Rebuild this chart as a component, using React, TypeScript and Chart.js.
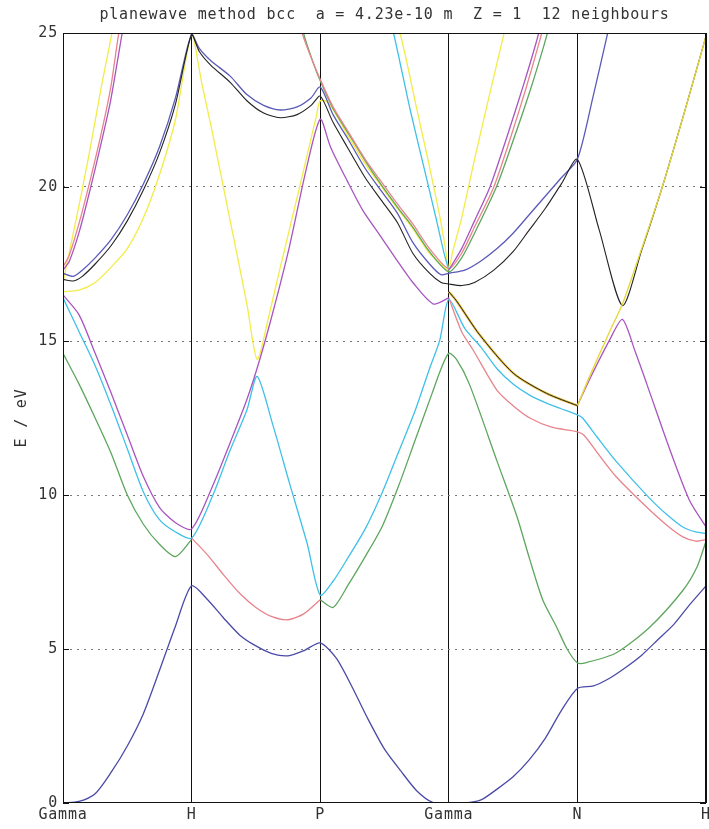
import { useEffect, useRef } from "react";
import { Chart, registerables } from "chart.js";

Chart.register(...registerables);

// ---------- texts / ticks ----------
const titleText = "planewave method bcc  a = 4.23e-10 m  Z = 1  12 neighbours";
const yAxisLabel = "E / eV";
const kPointLabels = ["Gamma", "H", "P", "Gamma", "N", "H"];
const kPointPositions = [0, 1, 2, 3, 4, 5];
const energyTicks = [0, 5, 10, 15, 20, 25];

type P = [number, number];

// ---------- bands (x = path position, y = energy in eV) ----------
const navyLow: P[] = [[0,0],[0.125,0.05],[0.25,0.3],[0.375,1.0],[0.5,1.85],[0.625,2.9],[0.75,4.3],[0.875,5.75],[1,7.05],[1.125,6.6],[1.25,6.0],[1.375,5.45],[1.5,5.1],[1.625,4.85],[1.75,4.78],[1.875,4.95],[2,5.2],[2.125,4.7],[2.25,3.75],[2.375,2.7],[2.5,1.75],[2.625,1.05],[2.75,0.4],[2.875,0.02],[3,0],[3.125,0],[3.25,0.1],[3.375,0.45],[3.5,0.85],[3.625,1.4],[3.75,2.1],[3.875,3.0],[4,3.72],[4.125,3.8],[4.25,4.05],[4.375,4.4],[4.5,4.8],[4.625,5.3],[4.75,5.8],[4.875,6.45],[5,7.05]];
const pinkLow: P[] = [[1,8.6],[1.125,8.05],[1.25,7.4],[1.375,6.8],[1.5,6.35],[1.625,6.05],[1.75,5.95],[1.875,6.15],[2,6.6]];
const greenLow: P[] = [[0,14.6],[0.125,13.6],[0.25,12.5],[0.375,11.35],[0.5,10.0],[0.625,9.05],[0.75,8.4],[0.875,8.0],[1,8.55]];
const greenMid: P[] = [[2,6.6],[2.1,6.35],[2.22,7.1],[2.35,8.0],[2.48,8.96],[2.61,10.3],[2.74,11.8],[2.87,13.3],[2.94,14.1],[3,14.6],[3.06,14.4],[3.16,13.6],[3.375,11.1],[3.53,9.3],[3.63,7.9],[3.73,6.6],[3.84,5.7],[3.92,5.0],[4,4.55],[4.07,4.56],[4.3,4.87],[4.56,5.7],[4.82,6.9],[4.93,7.66],[5,8.5]];
const cyanLow: P[] = [[0,16.4],[0.125,15.3],[0.25,14.2],[0.375,12.9],[0.5,11.5],[0.625,10.1],[0.75,9.2],[0.875,8.8],[1,8.6],[1.16,9.94],[1.3,11.46],[1.43,12.76],[1.51,13.85],[1.63,12.3],[1.76,10.4],[1.9,8.4],[2,6.75],[2.1,7.2],[2.22,7.99],[2.35,8.9],[2.48,10.06],[2.6,11.3],[2.74,12.76],[2.85,14.1],[2.93,15.03],[3,16.35],[3.125,15.4],[3.25,14.8],[3.375,14.1],[3.5,13.6],[3.625,13.25],[3.75,13.0],[3.875,12.8],[4,12.6],[4.04,12.5],[4.15,11.9],[4.3,11.1],[4.56,9.9],[4.7,9.35],[4.82,8.96],[4.92,8.8],[5,8.75]];
const magentaLow: P[] = [[0,16.5],[0.125,15.85],[0.25,14.6],[0.375,13.3],[0.5,11.95],[0.625,10.6],[0.75,9.6],[0.875,9.1],[1,8.9],[1.16,10.26],[1.3,11.7],[1.43,13.1],[1.53,14.4],[1.63,15.9],[1.76,18.05],[1.89,20.55],[2,22.2],[2.08,21.3],[2.21,20.2],[2.33,19.25],[2.47,18.4],[2.6,17.6],[2.72,16.9],[2.88,16.2],[3,16.4]];
const magentaNH: P[] = [[4,12.9],[4.1,13.8],[4.25,15.03],[4.35,15.7],[4.45,14.65],[4.54,13.6],[4.72,11.46],[4.87,9.84],[5,8.96]];
const pinkGNH: P[] = [[3,16.4],[3.1,15.3],[3.19,14.7],[3.375,13.4],[3.5,12.9],[3.63,12.5],[3.8,12.2],[4,12.05],[4.05,11.95],[4.15,11.4],[4.3,10.6],[4.54,9.6],[4.7,9.0],[4.82,8.64],[4.92,8.5],[5,8.55]];
const topGN: P[] = [[3,16.6],[3.06,16.3],[3.24,15.2],[3.5,13.96],[3.76,13.3],[4,12.9]];
const yellowNH: P[] = [[4,12.9],[4.1,13.9],[4.25,15.3],[4.35,16.2],[4.5,18.0],[4.66,20.0],[4.83,22.4],[5,24.9]];
const yellowGHP: P[] = [[0,16.6],[0.125,16.65],[0.25,16.9],[0.375,17.4],[0.5,18.0],[0.625,19.0],[0.75,20.4],[0.875,22.2],[1,24.95],[1.08,23.35],[1.16,21.8],[1.3,18.9],[1.43,16.2],[1.51,14.4],[1.6,15.8],[1.69,17.4],[1.84,20.0],[1.97,22.3],[2,22.8],[2.06,22.75],[2.13,22.3],[2.21,21.7],[2.35,20.75],[2.47,20.05],[2.6,19.3],[2.72,18.65],[2.85,17.85],[3,17.25]];
const yellowSteepGH: P[] = [[0,16.9],[0.1,18.9],[0.2,21.0],[0.3,23.3],[0.39,25.2],[0.44,26.4]];
const yellowSteepPGN: P[] = [[2.5,26.3],[2.62,25],[2.75,22.55],[2.85,20.65],[2.93,19.05],[2.97,18.1],[3,17.35],[3.03,17.9],[3.1,19.0],[3.2,20.9],[3.3,22.7],[3.43,25],[3.5,26.3]];
const cyanSteepPG: P[] = [[2.48,26.4],[2.57,25],[2.7,22.5],[2.8,20.75],[2.9,19.0],[2.96,17.9],[3,17.3]];
const pinkSteepGH: P[] = [[0,17.4],[0.05,17.8],[0.13,18.9],[0.21,20.2],[0.29,21.6],[0.37,23.2],[0.43,24.9],[0.5,26.6]];
const magentaSteepGH: P[] = [[0,17.3],[0.05,17.6],[0.13,18.6],[0.21,19.9],[0.29,21.3],[0.37,22.8],[0.44,24.5],[0.5,26.0]];
const pinkUpper: P[] = [[1.8,26.3],[1.86,25],[1.93,24.2],[2,23.5],[2.1,22.6],[2.21,21.85],[2.35,20.9],[2.47,20.2],[2.6,19.45],[2.72,18.8],[2.85,18.0],[3,17.35],[3.1,17.85],[3.2,18.7],[3.35,20.0],[3.48,21.6],[3.6,23.2],[3.71,24.8],[3.76,25.6]];
const greenUpper: P[] = [[1.81,26.3],[1.87,25],[1.94,24.1],[2,23.45],[2.1,22.55],[2.21,21.8],[2.35,20.85],[2.47,20.1],[2.6,19.35],[2.72,18.7],[2.85,17.9],[3,17.25],[3.1,17.7],[3.2,18.5],[3.37,20.0],[3.5,21.5],[3.63,23.1],[3.74,24.6],[3.8,25.5]];
const magentaSteepGN: P[] = [[3,17.3],[3.1,18.0],[3.2,18.9],[3.32,20.0],[3.45,21.6],[3.58,23.3],[3.68,24.7],[3.73,25.5]];
const blueUpper: P[] = [[0,17.2],[0.08,17.1],[0.15,17.3],[0.25,17.7],[0.375,18.3],[0.5,19.1],[0.625,20.1],[0.75,21.3],[0.875,22.9],[1,24.97],[1.06,24.5],[1.15,24.1],[1.3,23.6],[1.43,23.0],[1.56,22.65],[1.69,22.5],[1.82,22.6],[1.93,22.9],[2,23.25],[2.1,22.35],[2.21,21.6],[2.35,20.6],[2.47,19.9],[2.6,19.15],[2.72,18.2],[2.85,17.5],[2.94,17.15],[3,17.2],[3.125,17.3],[3.25,17.6],[3.375,18.0],[3.5,18.5],[3.625,19.1],[3.75,19.7],[3.875,20.3],[4,20.9],[4.12,22.9],[4.23,24.9],[4.3,26.2]];
const blackUpper: P[] = [[0,17.0],[0.08,16.95],[0.15,17.1],[0.25,17.5],[0.375,18.1],[0.5,18.9],[0.625,19.9],[0.75,21.1],[0.875,22.7],[1,24.95],[1.06,24.4],[1.15,23.95],[1.3,23.4],[1.43,22.8],[1.56,22.4],[1.69,22.25],[1.82,22.35],[1.93,22.65],[2,22.95],[2.1,22.1],[2.21,21.3],[2.35,20.3],[2.47,19.6],[2.6,18.85],[2.72,17.85],[2.85,17.2],[2.94,16.9],[3,16.85],[3.1,16.8],[3.2,16.9],[3.35,17.3],[3.5,17.9],[3.625,18.6],[3.75,19.3],[3.875,20.1],[4,20.9],[4.17,18.6],[4.35,16.15],[4.5,17.95],[4.66,20.0],[4.83,22.4],[5,24.9]];

// ---------- styles ----------
const NAVY = "#4a4aa8";
const PINK = "#e8848c";
const GREEN = "#5ea65e";
const CYAN = "#3fc0e8";
const MAGENTA = "#a855c0";
const YELLOW = "#f2ec48";
const BLUE = "#5a5ab8";
const BLACK = "#222222";
const FONT = '"DejaVu Sans Mono", monospace';
const TEXT = "#333333";

const series: { d: P[]; c: string; w?: number }[] = [
  { d: yellowSteepGH, c: YELLOW },
  { d: yellowGHP, c: YELLOW },
  { d: yellowSteepPGN, c: YELLOW },
  { d: topGN, c: "#e8c040", w: 2.4 },
  { d: cyanSteepPG, c: CYAN },
  { d: greenLow, c: GREEN },
  { d: greenMid, c: GREEN },
  { d: greenUpper, c: GREEN },
  { d: cyanLow, c: CYAN },
  { d: pinkLow, c: PINK },
  { d: pinkGNH, c: PINK },
  { d: pinkSteepGH, c: PINK },
  { d: pinkUpper, c: PINK },
  { d: magentaLow, c: MAGENTA },
  { d: magentaNH, c: MAGENTA },
  { d: magentaSteepGH, c: MAGENTA },
  { d: magentaSteepGN, c: MAGENTA },
  { d: blueUpper, c: BLUE },
  { d: blackUpper, c: BLACK, w: 1.1 },
  { d: yellowNH, c: "#e6d840", w: 1.4 },
  { d: topGN, c: BLACK, w: 1 },
  { d: navyLow, c: NAVY },
];

const overlay = {
  id: "overlay",
  beforeDraw(chart: any) {
    const ctx = chart.ctx as any;
    ctx.letterSpacing = "0.8px";
  },
  afterDatasetsDraw(chart: any) {
    const { ctx, chartArea: a, scales } = chart;
    ctx.save();
    ctx.strokeStyle = "#111";
    ctx.lineWidth = 1;
    ctx.setLineDash([]);
    ctx.strokeRect(a.left + 0.5, a.top + 0.5, a.right - a.left - 1, a.bottom - a.top - 1);
    ctx.beginPath();
    for (const v of energyTicks) {
      const y = Math.round(scales.y.getPixelForValue(v)) + 0.5;
      ctx.moveTo(a.left, y);
      ctx.lineTo(a.left + 6, y);
      ctx.moveTo(a.right - 6, y);
      ctx.lineTo(a.right, y);
    }
    ctx.stroke();
    ctx.restore();
  },
  afterDraw(chart: any) {
    const { ctx, chartArea: a } = chart;
    ctx.save();
    (ctx as any).letterSpacing = "0.8px";
    ctx.fillStyle = TEXT;
    ctx.font = `15px ${FONT}`;
    ctx.textAlign = "center";
    ctx.textBaseline = "middle";
    ctx.fillText(titleText, (a.left + a.right) / 2, 15);
    ctx.translate(22, (a.top + a.bottom) / 2);
    ctx.rotate(-Math.PI / 2);
    ctx.fillText(yAxisLabel, 0, 0);
    ctx.restore();
  },
};

export default function App() {
  const ref = useRef<HTMLCanvasElement>(null);
  useEffect(() => {
    document.body.style.margin = "0";
    const n = series.length;
    const chart = new Chart(ref.current as HTMLCanvasElement, {
      type: "line",
      data: {
        datasets: series.map((s, i) => ({
          data: s.d.map(([x, y]) => ({ x, y })),
          borderColor: s.c,
          backgroundColor: s.c,
          borderWidth: s.w ?? 1.3,
          pointRadius: 0,
          tension: 0.25,
          fill: false,
          order: n - i,
        })),
      },
      options: {
        animation: false,
        responsive: false,
        devicePixelRatio: 1,
        layout: { padding: { top: 33, right: 3, left: 0, bottom: 0 } },
        plugins: { legend: { display: false }, tooltip: { enabled: false }, title: { display: false } },
        scales: {
          x: {
            type: "linear",
            min: 0,
            max: 5,
            afterBuildTicks: (s: any) => {
              s.ticks = kPointPositions.map((v) => ({ value: v }));
            },
            afterFit: (s: any) => {
              s.height = 26;
              s.paddingLeft = 0;
              s.paddingRight = 0;
            },
            ticks: {
              autoSkip: false,
              maxRotation: 0,
              minRotation: 0,
              padding: 3,
              color: TEXT,
              font: { family: FONT, size: 15 },
              callback: (v: any) => {
                const i = kPointPositions.indexOf(Number(v));
                return i >= 0 ? kPointLabels[i] : "";
              },
            },
            grid: { color: "#111", lineWidth: 1, drawTicks: false },
            border: { display: false },
          },
          y: {
            type: "linear",
            min: 0,
            max: 25,
            afterBuildTicks: (s: any) => {
              s.ticks = energyTicks.map((v) => ({ value: v }));
            },
            afterFit: (s: any) => {
              s.width = 63;
              s.paddingTop = 0;
              s.paddingBottom = 0;
            },
            ticks: {
              padding: 5,
              color: TEXT,
              font: { family: FONT, size: 15 },
              callback: (v: any) => String(v),
            },
            grid: {
              color: (c: any) => (c.tick && (c.tick.value === 0 || c.tick.value === 25) ? "rgba(0,0,0,0)" : "#7a7a7a"),
              lineWidth: 1,
              drawTicks: false,
            },
            border: { display: false, dash: [2, 5] },
          },
        },
      },
      plugins: [overlay],
    } as any);
    return () => chart.destroy();
  }, []);
  return (
    <div style={{ width: 709, height: 829, background: "#fff" }}>
      <canvas ref={ref} width={709} height={829} style={{ display: "block" }} />
    </div>
  );
}
